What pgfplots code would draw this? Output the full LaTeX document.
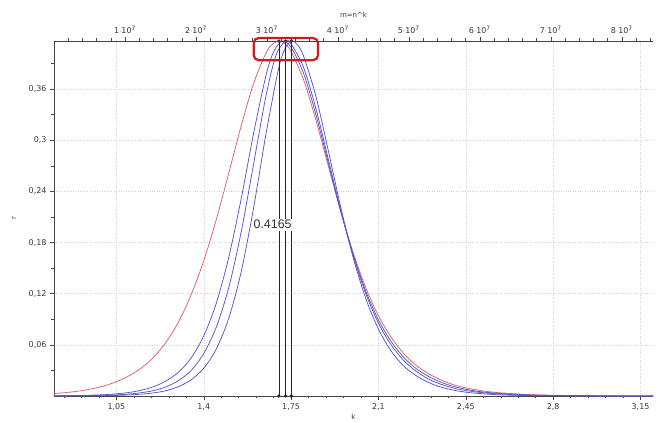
\documentclass[border=0pt]{standalone}
\usepackage{pgfplots}
\pgfplotsset{compat=1.18}
\usepackage{fontspec}
\setmainfont{DejaVu Sans}
\newfontfamily\arialfont{Liberation Sans}
\definecolor{redc}{RGB}{215,100,100}
\definecolor{bluec}{RGB}{85,85,205}
\definecolor{boxred}{RGB}{200,30,35}
\definecolor{axgray}{RGB}{70,70,70}
\definecolor{txtgray}{RGB}{55,55,55}
\begin{document}
\begin{tikzpicture}
\useasboundingbox (-54bp,-27bp) rectangle (608bp,396bp);
\begin{axis}[
  at={(0,0)}, anchor=south west,
  width=599bp, height=355bp, scale only axis,
  xmin=0.8, xmax=3.2, ymin=0, ymax=0.4165,
  axis x line*=bottom, axis y line*=left,
  axis line style={axgray, line width=0.6pt},
  xtick={1.05,1.4,1.75,2.1,2.45,2.8,3.15},
  xticklabels={{1,05},{1,4},{1,75},{2,1},{2,45},{2,8},{3,15}},
  minor xtick={0.84,0.91,0.98,1.12,1.19,1.26,1.33,1.47,1.54,1.61,1.68,1.82,1.89,1.96,2.03,2.17,2.24,2.31,2.38,2.52,2.59,2.66,2.73,2.87,2.94,3.01,3.08},
  ytick={0.06,0.12,0.18,0.24,0.3,0.36},
  yticklabels={{0,06},{0,12},{0,18},{0,24},{0,3},{0,36}},
  minor ytick={0.03,0.09,0.15,0.21,0.27,0.33,0.39},
  tick align=outside,
  major tick length=4bp, minor tick length=2.5bp,
  tick style={axgray, line width=0.5pt},
  grid=major,
  major grid style={line width=0.5pt, dash pattern=on 0.6pt off 1.8pt, gray!35},
  tick label style={font=\fontsize{8}{9}\selectfont, text=txtgray},
  xlabel={k}, ylabel={r},
  label style={font=\fontsize{7}{8}\selectfont, text=txtgray},
  xlabel style={yshift=3bp},
  ylabel style={yshift=6bp},
  clip=false,
]
% red curve
\addplot[redc, line width=0.75pt, smooth] coordinates {
(0.8,0.0029) (0.85,0.0041) (0.9,0.0058) (0.95,0.0083) (1.0,0.0118) (1.05,0.0168)
(1.1,0.0236) (1.15,0.0327) (1.2,0.0458) (1.25,0.0635) (1.3,0.0875) (1.35,0.1191)
(1.4,0.1587) (1.45,0.2067) (1.5,0.2613) (1.55,0.3169) (1.6,0.3670) (1.65,0.4027)
(1.675,0.4126) (1.701,0.4165) (1.725,0.4136) (1.75,0.4040)
(1.8,0.3710) (1.85,0.3231) (1.9,0.2689) (1.95,0.2151) (2.0,0.1671) (2.05,0.1264)
(2.1,0.0941) (2.15,0.0693) (2.2,0.0502) (2.25,0.0362) (2.3,0.0263) (2.35,0.0188)
(2.4,0.0133) (2.45,0.0095) (2.5,0.0068) (2.55,0.0048) (2.6,0.0035) (2.7,0.0017)
(2.8,0.0009) (2.9,0.0005) (3.0,0.0002) (3.2,0.0001)};
% blue 1
\addplot[bluec, line width=0.75pt, smooth] coordinates {
(0.8,0.0002) (0.85,0.0004) (0.9,0.0006) (0.95,0.0010) (1.0,0.0015) (1.05,0.0026)
(1.1,0.0041) (1.15,0.0068) (1.2,0.0110) (1.25,0.0178)
(1.3,0.0283) (1.35,0.0449) (1.4,0.0706) (1.45,0.1086) (1.5,0.1625) (1.55,0.2314)
(1.6,0.3085) (1.65,0.3769) (1.68,0.4038) (1.715,0.4165) (1.75,0.4089) (1.8,0.3786)
(1.85,0.3295) (1.9,0.2724) (1.95,0.2154) (2.0,0.1648) (2.05,0.1224) (2.1,0.0893)
(2.15,0.0642) (2.2,0.0458) (2.25,0.0324) (2.3,0.0231) (2.35,0.0162) (2.4,0.0113)
(2.45,0.0079) (2.5,0.0054) (2.55,0.0038) (2.6,0.0027) (2.7,0.0013)
(2.8,0.0006) (2.9,0.0003) (3.0,0.0001) (3.2,0.0000)};
% blue 2
\addplot[bluec, line width=0.75pt, smooth] coordinates {
(0.8,0.0001) (0.85,0.0002) (0.9,0.0003) (0.95,0.0005) (1.0,0.0008) (1.05,0.0013)
(1.1,0.0023) (1.15,0.0039) (1.2,0.0064) (1.25,0.0109)
(1.3,0.0183) (1.35,0.0301) (1.4,0.0498) (1.45,0.0807) (1.5,0.1270) (1.55,0.1925)
(1.6,0.2727) (1.65,0.3532) (1.69,0.4003) (1.728,0.4165) (1.75,0.4129) (1.8,0.3855)
(1.85,0.3365) (1.9,0.2766) (1.95,0.2166) (2.0,0.1633) (2.05,0.1195) (2.1,0.0854)
(2.15,0.0603) (2.2,0.0420) (2.25,0.0292) (2.3,0.0200) (2.35,0.0138) (2.4,0.0094)
(2.45,0.0064) (2.5,0.0044) (2.55,0.0030) (2.6,0.0021) (2.7,0.0009)
(2.8,0.0005) (2.9,0.0002) (3.0,0.0001) (3.2,0.0000)};
% blue 3
\addplot[bluec, line width=0.75pt, smooth] coordinates {
(0.8,0.0000) (0.85,0.0000) (0.9,0.0001) (0.95,0.0002) (1.0,0.0004) (1.05,0.0007)
(1.1,0.0012) (1.15,0.0022) (1.2,0.0037) (1.25,0.0063)
(1.3,0.0112) (1.35,0.0191) (1.4,0.0326) (1.45,0.0551) (1.5,0.0910) (1.55,0.1458)
(1.6,0.2212) (1.65,0.3085) (1.7,0.3844) (1.725,0.4070) (1.751,0.4165) (1.775,0.4122)
(1.8,0.3988) (1.85,0.3509) (1.9,0.2865) (1.95,0.2200) (2.0,0.1610) (2.05,0.1137)
(2.1,0.0784) (2.15,0.0531) (2.2,0.0355) (2.25,0.0240) (2.3,0.0159) (2.35,0.0105)
(2.4,0.0069) (2.45,0.0045) (2.5,0.0030) (2.55,0.0020) (2.6,0.0012) (2.7,0.0005)
(2.8,0.0002) (2.9,0.0001) (3.0,0.0000) (3.2,0.0000)};
% vertical markers of the maxima
\addplot[black!85, line width=0.6pt, mark=*, mark size=1.3pt] coordinates {(1.701,0) (1.701,0.4165)};
\addplot[black!85, line width=0.6pt, mark=*, mark size=1.3pt] coordinates {(1.728,0) (1.728,0.4165)};
\addplot[black!85, line width=0.6pt, mark=*, mark size=1.6pt] coordinates {(1.751,0) (1.751,0.4165)};
\node[fill=white, inner sep=1.5pt, text=black!80, font=\arialfont\fontsize{12.5}{14}\selectfont] at (axis cs:1.676,0.201) {0.4165};
\draw[boxred, line width=2.2pt, rounded corners=5bp] (axis cs:1.6,0.394) rectangle (axis cs:1.858,0.42);
\end{axis}
\begin{axis}[
  at={(0,0)}, anchor=south west,
  width=599bp, height=355bp, scale only axis,
  xmin=0, xmax=8.44, ymin=0, ymax=1,
  axis x line*=top, axis y line=none,
  axis line style={axgray, line width=0.6pt},
  xtick={1,2,3,4,5,6,7,8},
  xticklabels={1$\cdot$10\textsuperscript{7},2$\cdot$10\textsuperscript{7},3$\cdot$10\textsuperscript{7},4$\cdot$10\textsuperscript{7},5$\cdot$10\textsuperscript{7},6$\cdot$10\textsuperscript{7},7$\cdot$10\textsuperscript{7},8$\cdot$10\textsuperscript{7}},
  minor xtick={0.2,0.4,...,8.4},
  tick align=outside,
  major tick length=4bp, minor tick length=2.5bp,
  tick style={axgray, line width=0.5pt},
  tick label style={font=\fontsize{8}{9}\selectfont, text=txtgray},
  xlabel={m=n\textasciicircum k},
  label style={font=\fontsize{7}{8}\selectfont, text=txtgray},
  xlabel style={yshift=2bp},
]
\addplot[draw=none] coordinates {(0,0)};
\end{axis}
\end{tikzpicture}
\end{document}
